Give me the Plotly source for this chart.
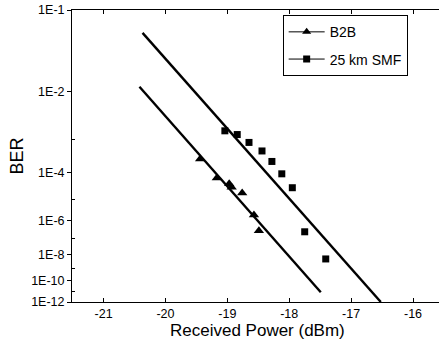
import numpy as np
import plotly.graph_objects as go

# ---- data ----
b2b_power = [-19.44, -19.17, -18.97, -18.93, -18.76, -18.57, -18.49]
b2b_ber = [2.8e-4, 6.6e-5, 4.1e-5, 3.0e-5, 1.8e-5, 1.9e-6, 2.9e-7]

smf_power = [-19.04, -18.84, -18.65, -18.44, -18.28, -18.12, -17.95, -17.75, -17.41]
smf_ber = [1.6e-3, 1.3e-3, 8.2e-4, 4.8e-4, 2.35e-4, 9.3e-5, 2.9e-5, 2.5e-7, 4.8e-9]

fit_b2b_power = [-20.42, -17.49]
fit_b2b_ber = [1.2e-2, 9e-12]
fit_smf_power = [-20.37, -16.52]
fit_smf_ber = [6.1e-2, 1e-12]

x_ticks = [-21, -20, -19, -18, -17, -16]
y_tick_ber = [1e-1, 1e-2, 1e-4, 1e-6, 1e-8, 1e-10, 1e-12]
y_tick_labels = ["1E-1", "1E-2", "1E-4", "1E-6", "1E-8", "1E-10", "1E-12"]
y_minor_ber = [1e-3, 1e-5, 1e-7, 1e-9, 1e-11]


def tr(ber):
    """BER axis transform: -log10(-log10(BER))."""
    b = np.asarray(ber, dtype=float)
    return -np.log10(-np.log10(b))


FONT = "Liberation Sans, Arial, sans-serif"
fig = go.Figure()

# fit lines
fig.add_trace(go.Scatter(x=fit_b2b_power, y=tr(fit_b2b_ber), mode="lines",
                         line=dict(color="black", width=2.4), showlegend=False,
                         hoverinfo="skip"))
fig.add_trace(go.Scatter(x=fit_smf_power, y=tr(fit_smf_ber), mode="lines",
                         line=dict(color="black", width=2.4), showlegend=False,
                         hoverinfo="skip"))

# data markers
fig.add_trace(go.Scatter(x=b2b_power, y=tr(b2b_ber), mode="markers",
                         marker=dict(symbol="triangle-up", size=9, color="black"),
                         showlegend=False))
fig.add_trace(go.Scatter(x=smf_power, y=tr(smf_ber), mode="markers",
                         marker=dict(symbol="square", size=7, color="black"),
                         showlegend=False))

# legend entries (line + marker sample)
fig.add_trace(go.Scatter(x=[None], y=[None], mode="lines+markers", name="B2B",
                         legendgroup="a",
                         line=dict(color="black", width=1),
                         marker=dict(symbol="triangle-up", size=8, color="black")))
fig.add_trace(go.Scatter(x=[None], y=[None], mode="lines+markers", name="25 km SMF",
                         legendgroup="b",
                         line=dict(color="black", width=1),
                         marker=dict(symbol="square", size=7, color="black")))

fig.update_layout(
    width=439, height=342,
    margin=dict(l=72, r=0, t=10, b=40),
    paper_bgcolor="white", plot_bgcolor="white",
    font=dict(family=FONT, color="black", size=12),
    legend=dict(x=0.574, y=0.982, xanchor="left", yanchor="top",
                bordercolor="black", borderwidth=1, bgcolor="white",
                font=dict(size=14, family=FONT), tracegroupgap=6,
                itemwidth=36),
    annotations=[dict(text="Received Power (dBm)", xref="paper", yref="paper",
                      x=0.505, y=-0.099, xanchor="center", yanchor="middle",
                      showarrow=False, font=dict(size=17, family=FONT))],
)

fig.update_xaxes(
    range=[-21.51, -15.58], tickvals=x_ticks, ticktext=[str(v) for v in x_ticks],
    ticks="inside", ticklen=4, tickcolor="black", showgrid=False, zeroline=False,
    showline=True, linecolor="black", linewidth=1, mirror="ticks",
    tickfont=dict(size=12.5),
)

fig.update_yaxes(
    range=[float(tr(1e-12)), float(tr(1e-1))],
    tickmode="array", tickvals=tr(y_tick_ber).tolist(), ticktext=y_tick_labels,
    ticks="outside", ticklen=4, tickcolor="black", showgrid=False, zeroline=False,
    showline=True, linecolor="black", linewidth=1,
    tickfont=dict(size=12.5),
    minor=dict(tickmode="array", tickvals=tr(y_minor_ber).tolist(),
               ticks="inside", ticklen=3, tickcolor="black", showgrid=False),
    title=dict(text="BER", font=dict(size=18), standoff=2),
)

fig.write_html("out.html", config={"displayModeBar": False},
               post_script="document.body.style.margin='0';"
                           "document.body.style.overflow='hidden';")
